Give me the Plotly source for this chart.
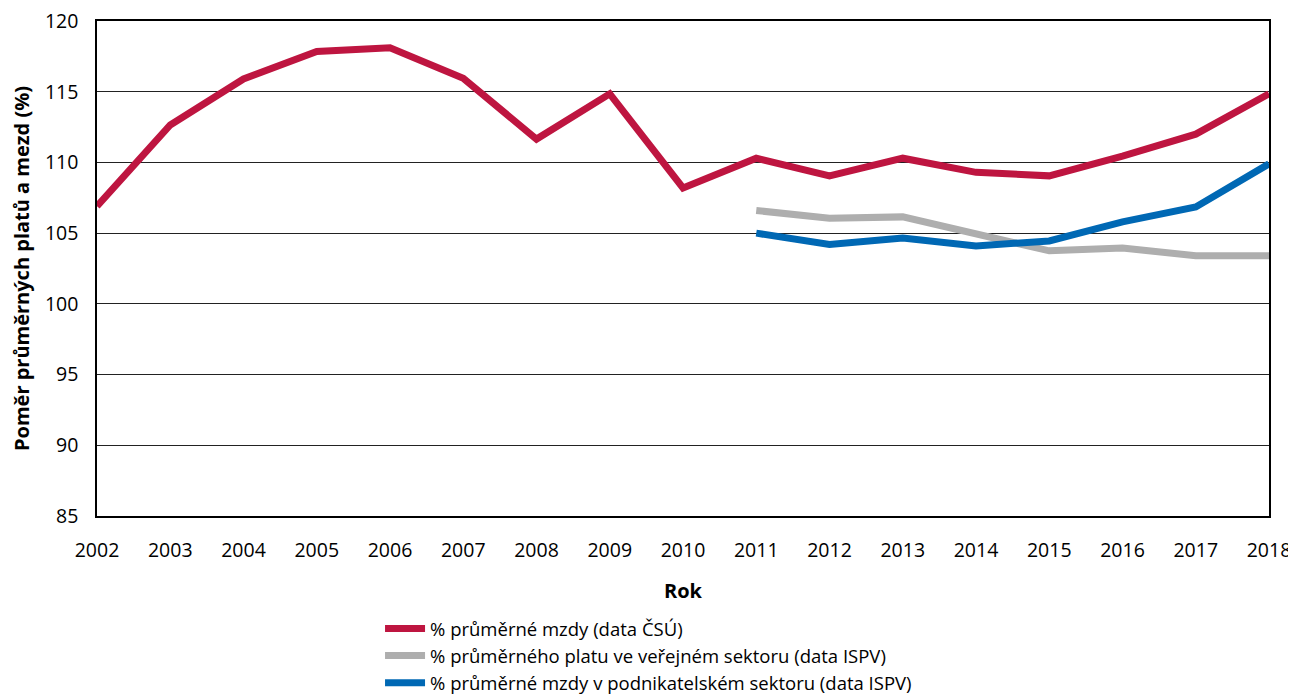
import plotly.graph_objects as go

years = list(range(2002, 2019))
csu = [106.9, 112.65, 115.9, 117.85, 118.1, 115.95, 111.65, 114.85, 108.2, 110.3,
       109.05, 110.3, 109.3, 109.05, 110.45, 112.0, 114.85]
years_ispv = list(range(2011, 2019))
verejny = [106.6, 106.05, 106.15, 104.95, 103.75, 103.95, 103.4, 103.4]
podnik = [105.0, 104.2, 104.65, 104.1, 104.45, 105.8, 106.85, 109.9]

names = ["% průměrné mzdy (data ČSÚ)",
         "% průměrného platu ve veřejném sektoru (data ISPV)",
         "% průměrné mzdy v podnikatelském sektoru (data ISPV)"]
colors = ["#BE1540", "#AEAEAE", "#0068B4"]

fig = go.Figure()
fig.add_trace(go.Scatter(x=years, y=csu, mode="lines", name=names[0],
                         line=dict(color=colors[0], width=7)))
fig.add_trace(go.Scatter(x=years_ispv, y=verejny, mode="lines", name=names[1],
                         line=dict(color=colors[1], width=7)))
fig.add_trace(go.Scatter(x=years_ispv, y=podnik, mode="lines", name=names[2],
                         line=dict(color=colors[2], width=7)))

# page body has an 8px default margin, so the figure is offset by 8px
font_family = "Open Sans"
fig.update_layout(
    width=1288, height=688,
    margin=dict(l=89, r=27, t=13, b=180, autoexpand=False),
    plot_bgcolor="white", paper_bgcolor="white",
    font=dict(family=font_family, size=19.5, color="black"),
    showlegend=True,
    legend=dict(orientation="v", x=0.2415, xanchor="left", y=-186 / 495, yanchor="bottom",
                font=dict(size=18.5), itemwidth=40, tracegroupgap=0,
                bgcolor="rgba(0,0,0,0)"),
    xaxis=dict(range=[2002, 2018], tickmode="array", tickvals=years,
               ticktext=[str(y) for y in years], showgrid=False,
               showline=True, linecolor="black", linewidth=1.5, mirror=True,
               ticks="", ticklabelstandoff=16, zeroline=False, automargin=False,
               ticklabeloverflow="allow",
               title=dict(text="<b>Rok</b>", font=dict(size=20), standoff=22)),
    yaxis=dict(range=[85, 120], tickmode="array", tickvals=[85, 90, 95, 100, 105, 110, 115, 120],
               showgrid=True, gridcolor="#222222", gridwidth=1,
               showline=True, linecolor="black", linewidth=1.5, mirror=True,
               ticks="", ticklabelstandoff=13, zeroline=False, automargin=False,
               ticklabeloverflow="allow",
               title=dict(text="<b>Poměr průměrných platů a mezd (%)</b>", font=dict(size=20), standoff=18)),
)

fig.write_html("out.html")
